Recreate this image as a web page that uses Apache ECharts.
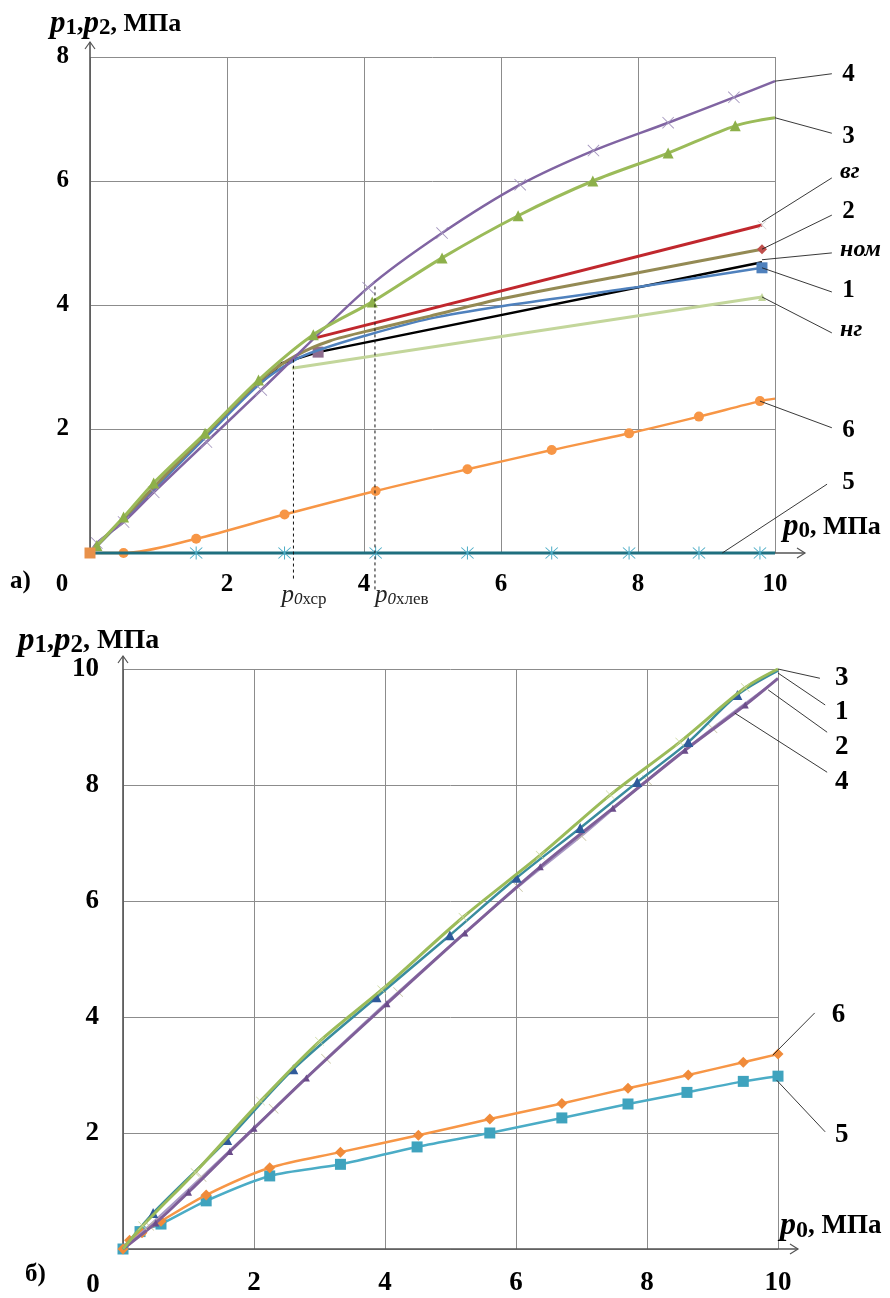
<!DOCTYPE html>
<html>
<head>
<meta charset="utf-8">
<script src="https://cdn.jsdelivr.net/npm/echarts@6/dist/echarts.min.js"></script>
<style>
  html, body { margin: 0; padding: 0; background: #fff; }
  #main { width: 890px; height: 1298px; }
</style>
</head>
<body>
<div id="main"></div>
<script>
// ---------- chart а) ----------
var a3  = [[0,0],[0.1,0.12],[0.49,0.58],[0.93,1.13],[1.68,1.93],[2.46,2.79],[3.26,3.52],[4.12,4.05],[5.14,4.76],[6.25,5.44],[7.34,6.0],[8.44,6.45],[9.42,6.89],[10,7.02]]
var a4  = [[0,0],[0.1,0.16],[0.49,0.5],[0.93,0.98],[1.7,1.79],[2.5,2.63],[4.06,4.28],[5.14,5.16],[6.28,5.94],[7.35,6.49],[8.44,6.94],[9.4,7.35],[10,7.61]]
var aVg = [[3.22,3.45],[9.81,5.29]]
var a2  = [[0,0],[0.5,0.57],[1,1.14],[1.7,1.93],[2.5,2.8],[3.0,3.18],[3.5,3.42],[4.2,3.62],[4.96,3.82],[6.01,4.1],[8,4.52],[9.81,4.9]]
var aNom = [[2.5,2.75],[2.8,3.06],[3.33,3.24],[9.81,4.69]]
var a1  = [[0,0],[0.5,0.55],[1,1.1],[1.7,1.88],[2.5,2.75],[3.0,3.12],[3.33,3.27],[4.0,3.5],[4.96,3.78],[6.01,3.98],[8.0,4.29],[9.81,4.6]]
var aNg = [[2.95,2.98],[9.81,4.13]]
var a6  = [[0,0],[0.49,0],[1.55,0.23],[2.84,0.62],[4.17,1.0],[5.51,1.35],[6.74,1.66],[7.87,1.93],[8.89,2.2],[9.78,2.45],[10,2.49]]
var a5  = [[0,0],[1.55,0],[2.84,0],[4.17,0],[5.51,0],[6.74,0],[7.87,0],[8.89,0],[9.78,0],[10,0]]

// дашированные линии p0хср, p0хлев: x, yTop, yBottom, label
var aDash = [[2.97,3.12,-0.44,'хср'],[4.16,4.3,-0.6,'хлев']]

// подписи кривых: текст, x0, y0, x1, y1, xText, yText, курсив
var aNotes = [
  ['4',   10,   7.61, 10.83, 7.73, 10.98, 7.71, false],
  ['3',   10,   7.02, 10.83, 6.77, 10.98, 6.71, false],
  ['вг',  9.81, 5.34, 10.83, 6.05, 10.95, 6.15, true],
  ['2',   9.81, 4.9,  10.83, 5.45, 10.98, 5.5,  false],
  ['ном', 9.81, 4.73, 10.83, 4.84, 10.95, 4.89, true],
  ['1',   9.81, 4.6,  10.83, 4.21, 10.98, 4.24, false],
  ['нг',  9.81, 4.13, 10.83, 3.55, 10.95, 3.6,  true],
  ['6',   9.78, 2.45, 10.83, 2.02, 10.98, 1.98, false],
  ['5',   9.23, 0,    10.76, 1.11, 10.98, 1.13, false]
]

// ---------- chart б) ----------
var b1 = [[0,0],[0.46,0.62],[1.59,1.88],[2.6,3.1],[3.87,4.34],[4.99,5.41],[6.01,6.4],[6.98,7.26],[7.85,8.05],[8.63,8.74],[9.38,9.55],[10,9.97]]
var b3 = [[0,0],[0.3,0.4],[1.1,1.32],[2.1,2.55],[3.0,3.58],[3.95,4.47],[5.19,5.72],[6.37,6.79],[7.44,7.83],[8.5,8.74],[9.5,9.68],[10,10]]
var b4 = [[0,0],[0.5,0.45],[1.0,0.98],[1.63,1.68],[2.0,2.08],[2.8,2.95],[4.03,4.23],[5.22,5.45],[6.37,6.59],[7.48,7.6],[8.58,8.6],[9.5,9.38],[10,9.84]]
var b2 = [[0,0],[0.4,0.4],[1.2,1.24],[2.3,2.42],[3.1,3.28],[4.2,4.43],[6.03,6.24],[7.0,7.12],[8.0,8.08],[9.0,8.98],[9.85,9.7]]
var b6 = [[0,0],[0.1,0.15],[0.29,0.28],[0.58,0.48],[1.27,0.93],[2.24,1.4],[3.32,1.67],[4.51,1.96],[5.6,2.24],[6.7,2.51],[7.71,2.77],[8.63,3.0],[9.47,3.22],[10,3.36]]
var b5 = [[0,0],[0.26,0.3],[0.58,0.43],[1.27,0.83],[2.24,1.26],[3.32,1.46],[4.49,1.76],[5.6,2.0],[6.7,2.26],[7.71,2.5],[8.61,2.7],[9.47,2.89],[10,2.98]]

var bNotes = [
  ['3', 10,   10,   10.64, 9.84, 10.87, 9.84, false],
  ['1', 10,   9.93, 10.72, 9.38, 10.87, 9.26, false],
  ['2', 9.85, 9.64, 10.75, 8.91, 10.87, 8.66, false],
  ['4', 9.34, 9.24, 10.75, 8.22, 10.87, 8.05, false],
  ['6', 9.92, 3.34, 10.56, 4.07, 10.82, 4.03, false],
  ['5', 9.98, 2.91, 10.72, 2.02, 10.87, 1.97, false]
]

var SERIF = '"Liberation Serif", "Times New Roman", serif'
var X_SYM = 'path://M0,1L1,0L10,9L19,0L20,1L11,10L20,19L19,20L10,11L1,20L0,19L9,10Z'
var STAR_SYM = 'path://M9.3,0H10.7V20H9.3Z M1,2L2,1L19,18L18,19Z M18,1L19,2L2,19L1,18Z'

// marks: 'all', 'none', 'last', 'inner' (all except last), or array of indices
function line(grid, data, color, width, marks, sym, size, symColor, z, smooth) {
  var n = data.length
  var items = data.map(function (p, i) {
    var on
    if (marks === 'all') on = true
    else if (marks === 'none') on = false
    else if (marks === 'last') on = i === n - 1
    else if (marks === 'inner') on = i > 0 && i < n - 1
    else on = marks.indexOf(i) >= 0
    return on ? { value: p } : { value: p, symbol: 'none' }
  })
  return {
    type: 'line', xAxisIndex: grid, yAxisIndex: grid, data: items,
    smooth: smooth === undefined ? 0.3 : smooth,
    symbol: sym || 'none', symbolSize: size || 8, showSymbol: true,
    lineStyle: { color: color, width: width },
    itemStyle: { color: symColor || color, borderWidth: 0 },
    z: z || 2, silent: true, clip: false
  }
}

function xAxis(grid, fs, margin) {
  return {
    type: 'value', gridIndex: grid, min: 0, max: 10, interval: 2,
    axisLine: { show: false }, axisTick: { show: false },
    splitLine: { show: true, lineStyle: { color: '#8c8c8c', width: 1 } },
    axisLabel: {
      margin: margin, fontSize: fs, fontWeight: 'bold', fontFamily: SERIF, color: '#000',
      formatter: function (v) { return v === 0 ? '' : String(v) }
    }
  }
}
function yAxis(grid, max, fs, margin) {
  return {
    type: 'value', gridIndex: grid, min: 0, max: max, interval: 2,
    axisLine: { show: false }, axisTick: { show: false },
    splitLine: { show: true, lineStyle: { color: '#8c8c8c', width: 1 } },
    axisLabel: {
      margin: margin, fontSize: fs, fontWeight: 'bold', fontFamily: SERIF, color: '#000',
      formatter: function (v) { return v === 0 ? '' : String(v) }
    }
  }
}

var chart = echarts.init(document.getElementById('main'))

chart.setOption({
  animation: false,
  backgroundColor: '#fff',
  grid: [
    { left: 90, top: 57, width: 685, height: 496 },
    { left: 123, top: 669, width: 655, height: 580 }
  ],
  xAxis: [xAxis(0, 25, 19), xAxis(1, 27, 21)],
  yAxis: [yAxis(0, 8, 25, 21), yAxis(1, 10, 27, 24)],
  series: [
    // а)
    line(0, aNg, '#C3D69B', 3, 'last', 'triangle', 8, '#C3D69B', 3, false),
    line(0, aNom, '#000', 2.5, [2], 'rect', 11, '#8E6C8E', 4, false),
    line(0, a1, '#4F81BD', 2.5, 'last', 'rect', 11, '#4F81BD', 5),
    line(0, a2, '#948A54', 3, 'last', 'diamond', 10, '#C0504D', 6),
    line(0, aVg, '#C0272D', 3, 'last', X_SYM, 9, '#ccc', 7, false),
    line(0, a6, '#F79646', 2.5, 'inner', 'circle', 10, '#F79646', 8),
    line(0, a5, '#1F6F7F', 3, 'inner', STAR_SYM, 13, '#4BACC6', 9, false),
    line(0, a4, '#8064A2', 2.5, 'inner', X_SYM, 12, '#A395BD', 10),
    line(0, a3, '#9BBB59', 3, 'inner', 'triangle', 11, '#8DB04A', 11),
    line(0, [[0,0]], '#F79646', 1, 'all', 'rect', 11, '#E8914A', 12, false),
    // б)
    line(1, b5, '#4BACC6', 2.5, 'all', 'rect', 11, '#3FA3BE', 3),
    line(1, b6, '#F79646', 2.5, 'all', 'diamond', 11, '#F08B3A', 4),
    line(1, b2, '#A898C4', 2, 'inner', X_SYM, 10, '#C5C2A0', 5),
    line(1, b4, '#7F5F99', 3, 'inner', 'triangle', 7, '#6B4C8A', 6),
    line(1, b1, '#3A8C9E', 2.5, 'inner', 'triangle', 10, '#2F5A9A', 7),
    line(1, b3, '#9BBB59', 3, 'inner', X_SYM, 9, '#CAD79E', 8)
  ]
})

// ---------- annotations ----------
function P(g, p) { return chart.convertToPixel({ gridIndex: g }, p) }
var gr = []
var AX = '#555'

function axes(g, xMax, yMax, yExt, xExt, w) {
  var o = P(g, [0, 0]), xe = P(g, [xMax, 0]), ye = P(g, [0, yMax])
  var ty = ye[1] - yExt, tx = xe[0] + xExt
  gr.push({ type: 'line', z: 1, shape: { x1: o[0], y1: o[1], x2: o[0], y2: ty }, style: { stroke: AX, lineWidth: 1.6 } })
  gr.push({ type: 'polyline', z: 1, shape: { points: [[o[0] - w, ty + 7], [o[0], ty], [o[0] + w, ty + 7]] }, style: { stroke: AX, lineWidth: 1.2, fill: null } })
  gr.push({ type: 'line', z: 1, shape: { x1: o[0], y1: o[1], x2: tx, y2: o[1] }, style: { stroke: AX, lineWidth: 1.6 } })
  gr.push({ type: 'polyline', z: 1, shape: { points: [[tx - 8, o[1] - w], [tx, o[1]], [tx - 8, o[1] + w]] }, style: { stroke: AX, lineWidth: 1.2, fill: null } })
}
axes(0, 10, 8, 15, 30, 5)
axes(1, 10, 10, 13, 20, 5)

function notes(g, list, fs) {
  list.forEach(function (n) {
    var a = P(g, [n[1], n[2]]), b = P(g, [n[3], n[4]]), t = P(g, [n[5], n[6]])
    gr.push({ type: 'line', z: 20, shape: { x1: a[0], y1: a[1], x2: b[0], y2: b[1] }, style: { stroke: '#222', lineWidth: 0.9 } })
    gr.push({ type: 'text', z: 20, x: t[0], y: t[1], style: {
      text: n[0], fill: '#000', fontFamily: SERIF, fontWeight: 'bold',
      fontStyle: n[7] ? 'italic' : 'normal', fontSize: n[7] ? fs - 1 : fs,
      align: 'left', verticalAlign: 'middle'
    } })
  })
}
notes(0, aNotes, 25)
notes(1, bNotes, 27)

aDash.forEach(function (d) {
  var t = P(0, [d[0], d[1]]), b = P(0, [d[0], d[2]])
  gr.push({ type: 'line', z: 20, shape: { x1: t[0], y1: t[1], x2: b[0], y2: b[1] }, style: { stroke: '#111', lineWidth: 1, lineDash: [3, 3] } })
  var l = P(0, [d[0], -0.68])
  gr.push({ type: 'text', z: 20, x: l[0] - (d[3] === 'хср' ? 12 : 0), y: l[1], style: {
    text: '{p|p}{z|0}{t|' + d[3] + '}', align: 'left', verticalAlign: 'middle',
    rich: {
      p: { fontFamily: SERIF, fontStyle: 'italic', fontSize: 25, lineHeight: 26, fill: '#222' },
      z: { fontFamily: SERIF, fontStyle: 'italic', fontSize: 17, lineHeight: 14, verticalAlign: 'bottom', fill: '#222' },
      t: { fontFamily: SERIF, fontSize: 17, lineHeight: 14, verticalAlign: 'bottom', fill: '#222' }
    }
  } })
})

function axisName(x, y, fs, sub) {
  gr.push({ type: 'text', z: 20, x: x, y: y, style: {
    text: sub, align: 'left', verticalAlign: 'middle',
    rich: {
      p: { fontFamily: SERIF, fontStyle: 'italic', fontWeight: 'bold', fontSize: fs + 5, lineHeight: fs + 6, fill: '#000' },
      s: { fontFamily: SERIF, fontWeight: 'bold', fontSize: fs - 3, lineHeight: fs - 4, verticalAlign: 'bottom', fill: '#000' },
      c: { fontFamily: SERIF, fontWeight: 'bold', fontSize: fs, lineHeight: fs + 6, fill: '#000' }
    }
  } })
}
axisName(50, 24, 26, '{p|p}{s|1}{c|,}{p|p}{s|2}{c|, МПа}')
axisName(783, 527, 26, '{p|p}{s|0}{c|, МПа}')
axisName(18, 641, 28, '{p|p}{s|1}{c|,}{p|p}{s|2}{c|, МПа}')
axisName(780, 1226, 27, '{p|p}{s|0}{c|, МПа}')

function plain(x, y, txt, fs, align) {
  gr.push({ type: 'text', z: 20, x: x, y: y, style: {
    text: txt, fill: '#000', fontFamily: SERIF, fontWeight: 'bold', fontSize: fs,
    align: align, verticalAlign: 'middle'
  } })
}
plain(62, 585, '0', 25, 'center')
plain(10, 582, 'а)', 25, 'left')
plain(93, 1285, '0', 27, 'center')
plain(25, 1275, 'б)', 25, 'left')

chart.setOption({ graphic: gr })
</script>
</body>
</html>
